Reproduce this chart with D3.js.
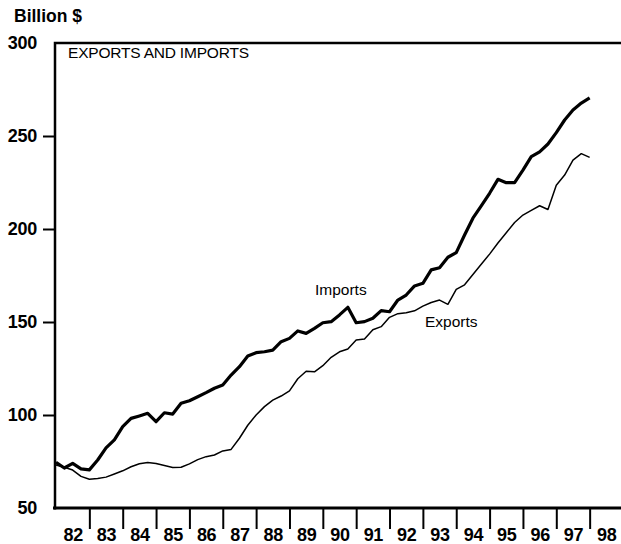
<!DOCTYPE html>
<html>
<head>
<meta charset="utf-8">
<script src="https://cdn.jsdelivr.net/npm/d3@7"></script>
<style>
  html, body { margin: 0; padding: 0; background: #fff; }
  svg { display: block; font-family: "Liberation Sans", Arial, Helvetica, sans-serif; }
</style>
</head>
<body>
<svg id="chart" width="621" height="544"></svg>
<script>
// quarterly values, 1982 Q1 .. 1998 Q1, billion $
const startYear = 1982
const imports = [
  74.5, 71.5, 74, 71, 70.5, 75.8, 82.3, 86.6, 93.7, 98.2, 99.5, 100.9, 96.4,
  101.2, 100.5, 106.3, 107.7, 109.8, 112, 114.4, 116.1, 121.5, 126, 131.7, 133.5,
  134, 134.9, 139.4, 141.2, 145.2, 143.9, 146.6, 149.6, 150.2, 153.8, 157.9, 149.6,
  150.2, 152, 156.1, 155.5, 161.8, 164.5, 169.4, 170.8, 178, 179.2, 184.8, 187.3,
  196.8, 205.8, 212.4, 219.2, 226.7, 224.9, 224.9, 231.7, 238.9, 241.5, 245.7, 251.8,
  258.6, 264, 267.7, 270.5
]
const exports = [
  73.1, 71.9, 70.4, 67, 65.5, 65.8, 66.6, 68.3, 70, 72.2, 73.8, 74.4, 73.9,
  72.8, 71.8, 71.9, 73.7, 76, 77.6, 78.5, 80.7, 81.5, 87.5, 94.5, 100,
  104.5, 108, 110.2, 113, 119.5, 123.5, 123.2, 126.5, 131, 134, 135.5, 140.3,
  140.8, 145.8, 147.5, 152.5, 154.5, 155, 156, 158.5, 160.5, 161.8, 159.5, 167.5,
  170, 175.5, 181, 186.5, 192.5, 198, 203.5, 207.5, 210, 212.5, 210.5, 223.5,
  229, 237, 240.5, 238.5
]
const yTicks = [50, 100, 150, 200, 250, 300]
const yearLabels = ["82","83","84","85","86","87","88","89","90","91","92","93","94","95","96","97","98"]

const width = 621, height = 544
const svg = d3.select("#chart")

let x = d3.scaleLinear([1982, 1999], [56, 623])
let y = d3.scaleLinear([50, 300], [508, 43])

const quarter = i => startYear + i / 4

// y axis ticks and labels
let yAxis = svg.append("g")
    .attr("transform", "translate(55,0)")
    .call(d3.axisLeft(y).tickValues(yTicks).tickSize(12).tickPadding(6))
yAxis.select(".domain").remove()
yAxis.selectAll(".tick line")
    .attr("stroke", "#000")
    .attr("stroke-width", 2)
    .attr("display", d => (d == 50 || d == 300) ? "none" : null)
yAxis.selectAll(".tick text")
    .attr("fill", "#000")
    .style("font-size", "18px")
    .style("font-weight", "bold")
    .style("letter-spacing", "-0.3px")

// x axis: year boundaries
let xTicks = svg.append("g")
    .attr("transform", "translate(0,508)")
    .call(d3.axisBottom(x).tickValues(d3.range(1983, 1999)).tickSize(21).tickFormat(""))
xTicks.select(".domain").remove()
xTicks.selectAll(".tick line").attr("stroke", "#000").attr("stroke-width", 2)

// year labels centred in each year
let xLabels = svg.append("g")
    .attr("transform", "translate(0,508)")
    .call(d3.axisBottom(x)
        .tickValues(yearLabels.map((d, i) => startYear + i + 0.5))
        .tickSize(0).tickPadding(20)
        .tickFormat((d, i) => yearLabels[i]))
xLabels.select(".domain").remove()
xLabels.selectAll(".tick text")
    .attr("fill", "#000")
    .style("font-size", "18px")
    .style("font-weight", "bold")
    .style("letter-spacing", "-0.3px")

// frame
svg.append("path")
    .attr("d", `M55,509.5 V43 H${width}`)
    .attr("fill", "none").attr("stroke", "#000").attr("stroke-width", 2.5)
svg.append("line")
    .attr("x1", 53).attr("x2", width).attr("y1", 508).attr("y2", 508)
    .attr("stroke", "#000").attr("stroke-width", 3)

// lines
let line = d3.line()
    .x((d, i) => x(quarter(i)))
    .y(d => y(d))

svg.append("path")
    .datum(exports)
    .attr("fill", "none").attr("stroke", "#000")
    .attr("stroke-width", 1.5).attr("stroke-linejoin", "round")
    .attr("d", line)

svg.append("path")
    .datum(imports)
    .attr("fill", "none").attr("stroke", "#000")
    .attr("stroke-width", 3.2).attr("stroke-linejoin", "round")
    .attr("d", line)

// texts
svg.append("text")
    .attr("x", 14).attr("y", 22)
    .style("font-size", "17.5px").style("font-weight", "bold")
    .text("Billion $")

svg.append("text")
    .attr("x", 68).attr("y", 58)
    .style("font-size", "15.5px")
    .style("letter-spacing", "-0.2px")
    .text("EXPORTS AND IMPORTS")

svg.append("text")
    .attr("x", 315).attr("y", 295)
    .style("font-size", "15.5px")
    .text("Imports")

svg.append("text")
    .attr("x", 425).attr("y", 327)
    .style("font-size", "15.5px")
    .text("Exports")
</script>
</body>
</html>
